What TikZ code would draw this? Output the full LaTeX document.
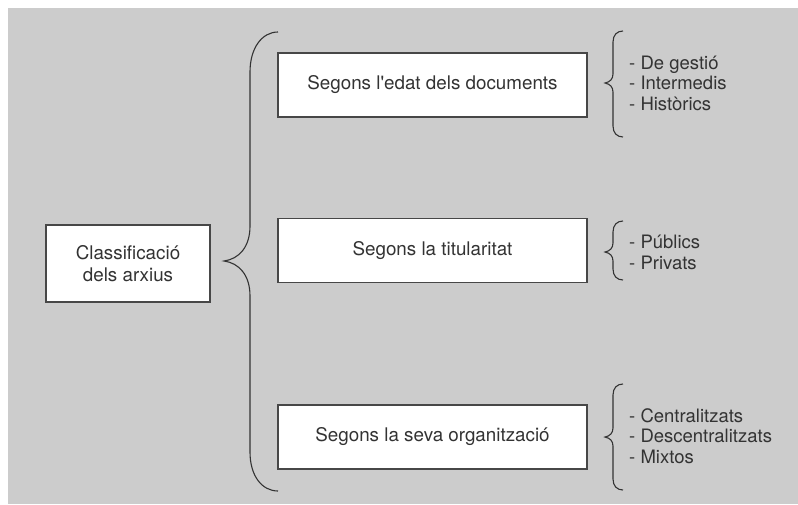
\documentclass[tikz,border=0pt]{standalone}
\usepackage{fontspec}
\setmainfont{TeX Gyre Heros}
\usepackage{tikz}
\usepackage{xcolor}
\definecolor{archgray}{HTML}{CCCCCC}
\definecolor{archink}{HTML}{333333}
\definecolor{archline}{HTML}{474747}
\tikzset{
  box/.style={draw=archline, fill=white, line width=1.2pt, align=center, inner sep=0pt, text=archink, font=\fontsize{18.8}{22}\selectfont},
  curly/.style={draw=archink, line width=1.1pt},
  items/.style={anchor=west, align=left, inner sep=0pt, text=archink, font=\fontsize{18.5}{20.5}\selectfont}
}

\begin{document}
\begin{tikzpicture}[x=1pt, y=-1pt]
  \useasboundingbox (0,0) rectangle (798,504);
  \fill[archgray] (8,8) rectangle (798,504);

  % root and the three criteria
  \node[box, minimum width=164pt, minimum height=77pt] (root) at (128,263.5) {Classificació\\dels arxius};
  \node[box, minimum width=309pt, minimum height=64pt] (age) at (432.5,85) {Segons l\textquotesingle edat dels documents};
  \node[box, minimum width=309pt, minimum height=64pt] (owner) at (432.5,250.5) {Segons la titularitat};
  \node[box, minimum width=309pt, minimum height=64pt] (organ) at (432.5,437) {Segons la seva organització};

  % sub-types
  \node[items] (agelist) at (629,83) {- De gestió\\- Intermedis\\- Històrics};
  \node[items] (ownerlist) at (629,252.5) {- Públics\\- Privats};
  \node[items] (organlist) at (629,436) {- Centralitzats\\- Descentralitzats\\- Mixtos};

  % big brace
  \draw[curly] (278,32) .. controls (262,32) and (250,48) .. (250,72) -- (250,226)
    .. controls (250,247) and (239,259) .. (224,261)
    .. controls (239,263) and (250,275) .. (250,296) -- (250,452)
    .. controls (250,476) and (262,491) .. (278,491);

  % small braces
  \draw[curly] (623,31) .. controls (617,31) and (613,35) .. (613,42) -- (613,74)
    .. controls (613,79) and (610,82) .. (605,83)
    .. controls (610,84) and (613,87) .. (613,92) -- (613,126)
    .. controls (613,133) and (617,137) .. (623,137);
  \draw[curly] (623,221) .. controls (617,221) and (613,225) .. (613,232) -- (613,243)
    .. controls (613,248) and (610,251) .. (605,252)
    .. controls (610,253) and (613,256) .. (613,261) -- (613,269)
    .. controls (613,276) and (617,280) .. (623,280);
  \draw[curly] (623,384) .. controls (617,384) and (613,388) .. (613,395) -- (613,428)
    .. controls (613,433) and (610,436) .. (605,437)
    .. controls (610,438) and (613,441) .. (613,446) -- (613,479)
    .. controls (613,486) and (617,490) .. (623,490);
\end{tikzpicture}
\end{document}
